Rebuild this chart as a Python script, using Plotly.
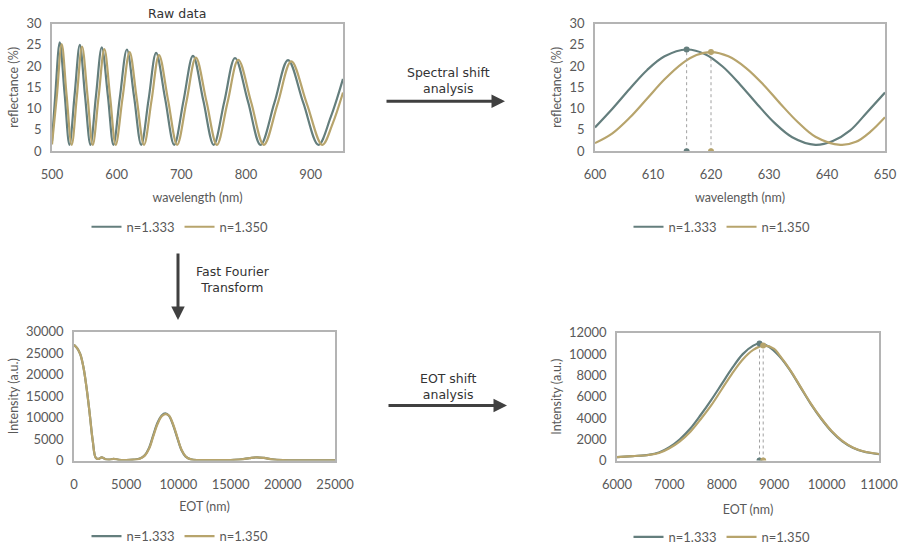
import plotly.graph_objects as go

# ---------------- data ----------------
# Raw reflectance spectra, 500-950 nm
raw_wl_1333 = [500, 505, 512, 519.5, 527, 535, 543, 551, 559.5, 568, 577, 586.5, 595, 605, 615.8,
               627, 638, 649.5, 661, 675, 689, 703.5, 718, 734, 750, 766.5, 783, 803, 822.5,
               844, 865, 888.5, 912, 931, 950]
raw_R_1333 = [2.4, 13.0, 25.6, 13.5, 1.5, 13.3, 25.0, 13.2, 1.5, 13.0, 24.4, 12.9, 1.5, 12.7, 23.9,
              12.7, 1.5, 12.3, 23.1, 12.3, 1.5, 12.0, 22.4, 11.9, 1.5, 11.7, 21.9, 11.7, 1.5,
              11.4, 21.4, 11.4, 1.5, 8.0, 17.0]
raw_wl_1350 = [500, 507.5, 515, 522.5, 530.5, 538.5, 546.5, 555, 563, 572, 581, 590, 598.5, 609, 620,
               631, 642.3, 654, 665.5, 679.5, 693.5, 708, 722.5, 739, 755, 771.5, 788, 808, 827.5,
               849, 870, 894, 918, 934, 950]
raw_R_1350 = [1.6, 13.0, 25.2, 13.3, 1.5, 13.0, 24.6, 12.9, 1.5, 12.7, 24.0, 12.6, 1.5, 12.4, 23.3,
              12.4, 1.5, 12.0, 22.6, 12.0, 1.5, 11.7, 22.0, 11.6, 1.5, 11.5, 21.5, 11.5, 1.5,
              11.2, 21.1, 11.2, 1.5, 6.5, 13.8]

# Spectral window 600-650 nm
win_wl_1333 = [600, 603, 606, 609, 612, 615.8, 619, 622, 625, 628, 631, 634, 638, 641, 644, 647, 650]
win_R_1333 = [5.6, 10.0, 14.7, 19.1, 22.3, 23.9, 22.8, 19.9, 15.7, 11.0, 6.6, 3.3, 1.5, 2.4, 4.9, 9.3, 13.8]
win_wl_1350 = [600, 603, 606, 609, 612, 615, 617.5, 620, 623, 626, 629, 632, 635, 638, 642.3, 645, 647.5, 650]
win_R_1350 = [1.9, 4.2, 7.9, 12.4, 16.9, 20.6, 22.6, 23.3, 22.3, 19.6, 15.7, 11.1, 6.8, 3.4, 1.5, 2.2, 4.6, 8.0]
peak_wl_1333, peak_R_1333 = 615.8, 23.9
peak_wl_1350, peak_R_1350 = 620.0, 23.3

# FFT spectra, 0-25000 nm
fft_eot = [0, 300, 600, 900, 1200, 1500, 1800, 2100, 2400, 2650, 3000, 3400, 3800, 4300, 5000, 5700,
           6300, 6800, 7200, 7600, 8000, 8400, 8750, 9100, 9500, 9900, 10300, 10700, 11200, 12000,
           13500, 15000, 16000, 16800, 17500, 18200, 19000, 20000, 22000, 25000]
fft_I_1333 = [27000, 26200, 24800, 21800, 17000, 11000, 4500, 600, 400, 750, 300, 200, 400, 150, 100, 200,
              450, 1300, 3000, 6000, 8800, 10500, 11000, 10400, 8200, 5200, 2400, 900, 250, 100,
              80, 120, 250, 550, 750, 600, 250, 80, 30, 20]
fft_I_1350 = [27000, 26200, 24800, 21800, 17000, 11000, 4500, 600, 400, 750, 300, 200, 400, 150, 100, 200,
              420, 1200, 2800, 5700, 8500, 10300, 10800, 10500, 8400, 5400, 2500, 950, 260, 100,
              80, 120, 250, 550, 750, 600, 250, 80, 30, 20]

# EOT window 6000-11000 nm
eot_win_1333 = [6000, 6300, 6600, 6800, 7000, 7200, 7400, 7600, 7800, 8000, 8200, 8400, 8600, 8720,
                8900, 9100, 9300, 9500, 9700, 9900, 10100, 10300, 10500, 10700, 11000]
I_win_1333 = [320, 420, 530, 750, 1250, 2000, 3000, 4300, 5700, 7200, 8700, 10000, 10800, 11000,
              10700, 9800, 8500, 6900, 5300, 3900, 2700, 1800, 1200, 850, 600]
eot_win_1350 = [6000, 6300, 6600, 6800, 7000, 7200, 7400, 7600, 7800, 8000, 8200, 8400, 8600, 8790,
                9000, 9100, 9300, 9500, 9700, 9900, 10100, 10300, 10500, 10700, 11000]
I_win_1350 = [320, 420, 520, 700, 1150, 1800, 2700, 3900, 5200, 6700, 8200, 9500, 10400, 10800,
              10500, 9900, 8550, 6950, 5350, 3950, 2750, 1850, 1230, 870, 610]
peak_eot_1333, peak_I_1333 = 8720, 11000
peak_eot_1350, peak_I_1350 = 8790, 10800

names = ["n=1.333", "n=1.350"]

# ---------------- style ----------------
W, H = 905, 552
C1 = "#647E7D"      # n=1.333
C2 = "#B7A46C"      # n=1.350
TXT = "#595959"
FRAME = "#B4B4B4"
TICKFONT = dict(family="Lato", size=13, color=TXT)
LABELFONT = dict(family="DejaVu Sans", size=12.5, color="#333333")


def px(x):
    return x / W


def py(y):
    return 1 - y / H


fig = go.Figure()


def add_pair(xs1, ys1, xs2, ys2, ax, legend):
    for xs, ys, c, nm in ((xs1, ys1, C1, names[0]), (xs2, ys2, C2, names[1])):
        fig.add_trace(go.Scatter(
            x=xs, y=ys, mode="lines", name=nm,
            line=dict(color=c, width=2.2, shape="spline", smoothing=1.0),
            xaxis="x" + ax, yaxis="y" + ax, legend=legend,
        ))


def add_peak_marker(xp, yp, c, ax):
    fig.add_trace(go.Scatter(
        x=[xp, xp], y=[0, yp], mode="lines+markers", showlegend=False,
        line=dict(color="#A0A0A0", width=1, dash="dot"),
        marker=dict(color=c, size=6),
        xaxis="x" + ax, yaxis="y" + ax,
    ))


add_pair(raw_wl_1333, raw_R_1333, raw_wl_1350, raw_R_1350, "", "legend")
add_pair(win_wl_1333, win_R_1333, win_wl_1350, win_R_1350, "2", "legend2")
add_peak_marker(peak_wl_1333, peak_R_1333, C1, "2")
add_peak_marker(peak_wl_1350, peak_R_1350, C2, "2")
add_pair(fft_eot, fft_I_1333, fft_eot, fft_I_1350, "3", "legend3")
add_pair(eot_win_1333, I_win_1333, eot_win_1350, I_win_1350, "4", "legend4")
add_peak_marker(peak_eot_1333, peak_I_1333, C1, "4")
add_peak_marker(peak_eot_1350, peak_I_1350, C2, "4")


def axis(domain, rng, dtick, title, tstand, anchor, standoff):
    return dict(
        domain=domain, range=rng, dtick=dtick, tick0=rng[0], anchor=anchor,
        showline=True, mirror=True, linecolor=FRAME, linewidth=1.5,
        showgrid=False, zeroline=False, ticks="", tickformat="d",
        tickfont=TICKFONT, ticklabelstandoff=standoff, automargin=False,
        title=dict(text=title, font=dict(family="Lato", size=12.5, color=TXT), standoff=tstand),
        fixedrange=True,
    )


# panel rectangles in pixels: (left, right, top, bottom)
P1 = (52, 343, 24, 154)
P2 = (595, 885, 24, 154)
P3 = (74, 335, 338, 469)
P4 = (617, 879, 339, 469)


def dom(p):
    return [px(p[0]), px(p[1])], [py(p[3]), py(p[2])]


d1x, d1y = dom(P1)
d2x, d2y = dom(P2)
d3x, d3y = dom(P3)
d4x, d4y = dom(P4)

legend_common = dict(orientation="h", xanchor="center", yanchor="middle",
                     font=dict(family="Lato", size=13, color=TXT),
                     bgcolor="rgba(0,0,0,0)", itemwidth=30, itemclick=False)

fig.update_layout(
    width=W, height=H, margin=dict(l=0, r=0, t=0, b=0),
    template="none", paper_bgcolor="white", plot_bgcolor="white",
    xaxis=axis(d1x, [500, 950], 100, "wavelength (nm)", 13, "y", 10),
    yaxis=axis(d1y, [0, 30], 5, "reflectance (%)", 5, "x", 6),
    xaxis2=axis(d2x, [600, 650], 10, "wavelength (nm)", 13, "y2", 10),
    yaxis2=axis(d2y, [0, 30], 5, "reflectance (%)", 5, "x2", 6),
    xaxis3=axis(d3x, [0, 25000], 5000, "EOT (nm)", 11, "y3", 11),
    yaxis3=axis(d3y, [0, 30000], 5000, "Intensity (a.u.)", 5, "x3", 6),
    xaxis4=axis(d4x, [6000, 11000], 1000, "EOT (nm)", 14, "y4", 11),
    yaxis4=axis(d4y, [0, 12000], 2000, "Intensity (a.u.)", 5, "x4", 6),
    legend=dict(legend_common, x=px(180), y=py(231)),
    legend2=dict(legend_common, x=px(722), y=py(231)),
    legend3=dict(legend_common, x=px(180), y=py(546)),
    legend4=dict(legend_common, x=px(722), y=py(547)),
)

# titles and process labels
labels = [
    ("Raw data", 177, 14),
    ("Spectral shift<br>analysis", 448, 82),
    ("EOT shift<br>analysis", 448, 393.5),
    ("Fast Fourier<br>Transform", 233, 284.5),
]
for text, x, y in labels:
    fig.add_annotation(text=text, x=px(x), y=py(y), xref="paper", yref="paper",
                       showarrow=False, xanchor="center", yanchor="middle",
                       font=LABELFONT)

# process arrows (tip, tail) in pixels
arrows = [((505, 103), (385, 103)), ((507, 413), (387, 413)), ((178, 326), (178, 258))]
for (hx, hy), (tx, ty) in arrows:
    fig.add_annotation(x=px(hx), y=py(hy), ax=tx - hx, ay=ty - hy,
                       xref="paper", yref="paper", axref="pixel", ayref="pixel",
                       text="", showarrow=True, arrowhead=2, arrowsize=0.9,
                       arrowwidth=3, arrowcolor="#404040")

fig.write_html("out.html")
